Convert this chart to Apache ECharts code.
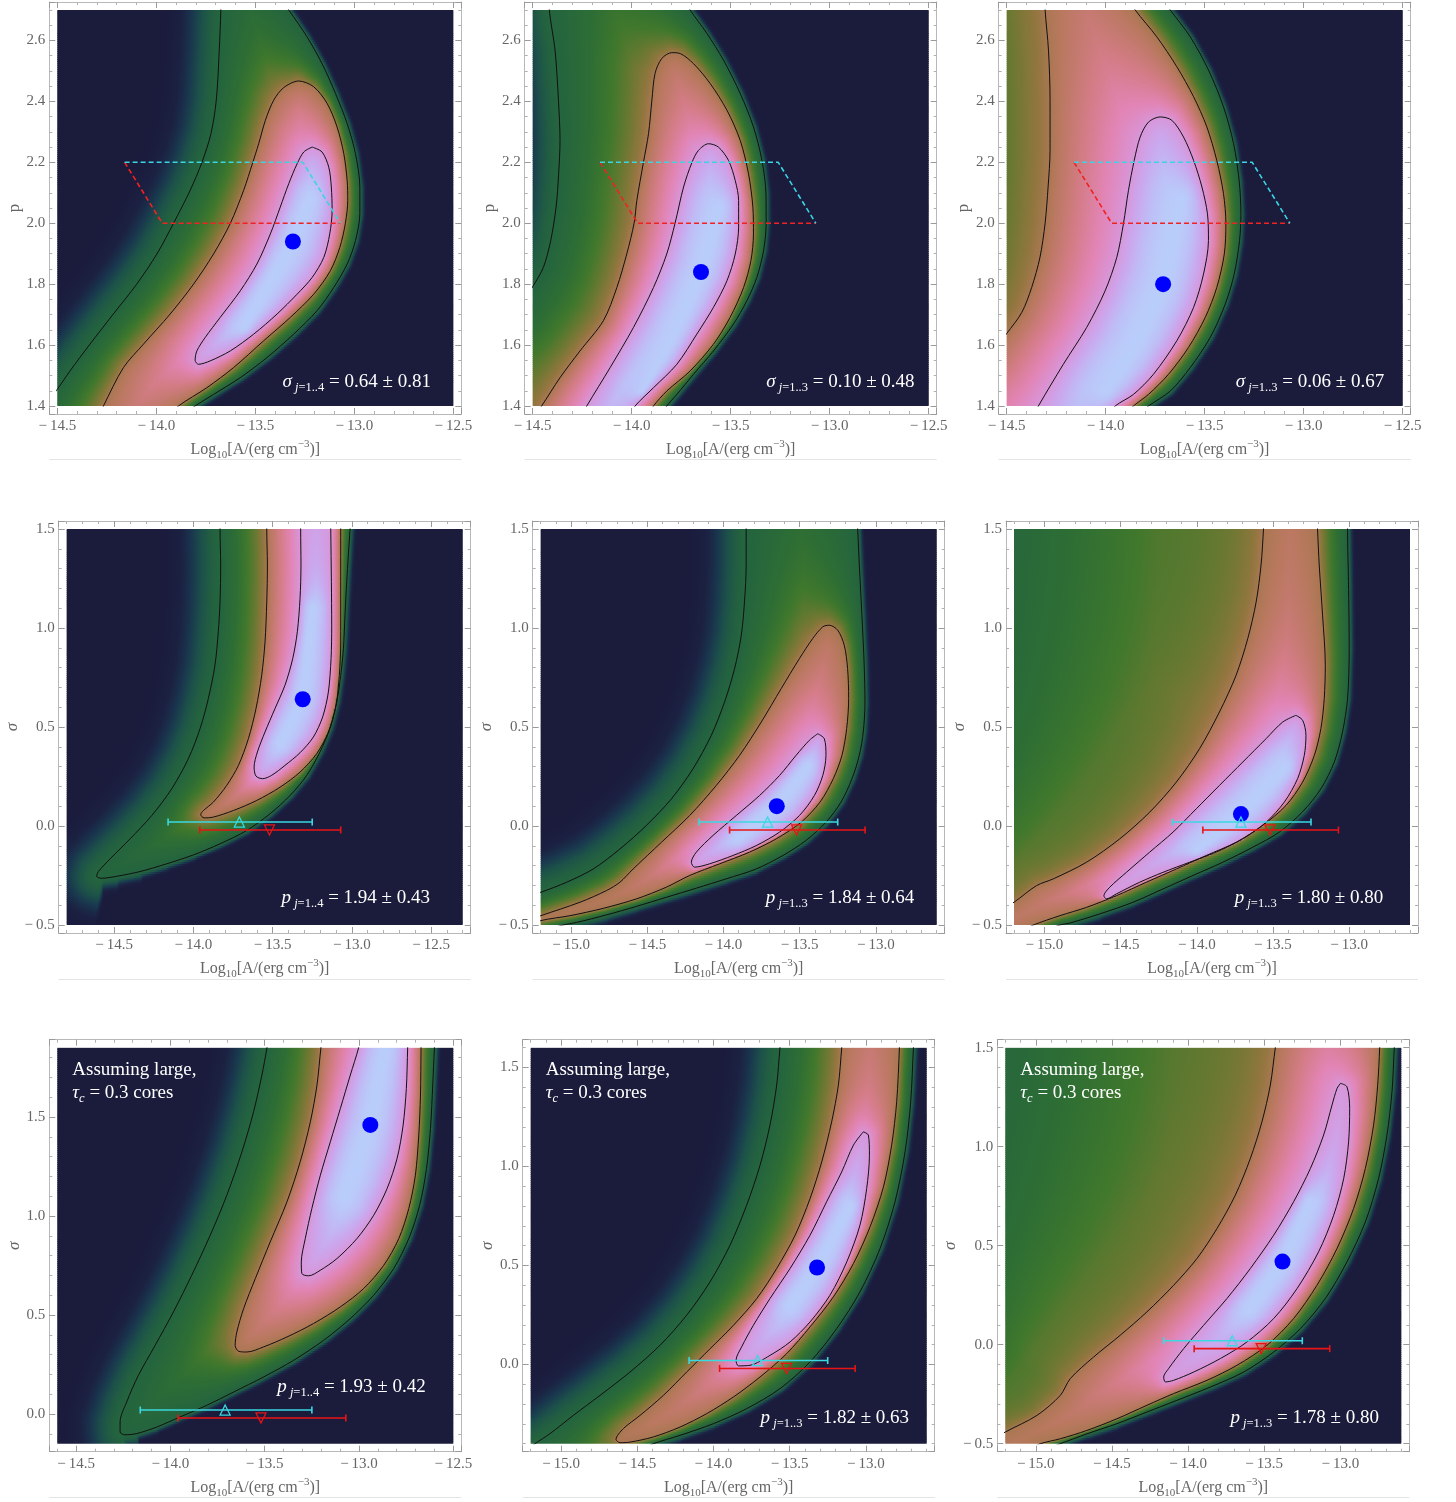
<!DOCTYPE html>
<html><head><meta charset="utf-8"><title>Likelihood maps</title>
<script src="https://cdn.jsdelivr.net/npm/echarts@6.0.0/dist/echarts.min.js"></script>
<style>html,body{margin:0;padding:0;background:#fff;}#chart{width:1456px;height:1502px;}</style>
</head><body><div id="chart"></div>
<script>
// ================= DATA =================
const X_RANGES = [[-14.5,-12.5],[-14.5,-12.5],[-14.5,-12.5],[-14.8,-12.3],[-15.2,-12.6],[-15.2,-12.6],[-14.6,-12.5],[-15.2,-12.6],[-15.2,-12.6]];
const Y_RANGES = [[1.4,2.7],[1.4,2.7],[1.4,2.7],[-0.5,1.5],[-0.5,1.5],[-0.5,1.5],[-0.15,1.85],[-0.4,1.6],[-0.5,1.5]];
const Y_TICK_STEP = [0.2,0.2,0.2,0.5,0.5,0.5,0.5,0.5,0.5];
const Y_NAMES = ['p','p','p','σ','σ','σ','σ','σ','σ'];
const BEST_FIT = [[-13.31,1.94],[-13.65,1.84],[-13.71,1.80],[-13.31,0.64],[-13.65,0.10],[-13.71,0.06],[-12.94,1.46],[-13.32,0.49],[-13.38,0.42]];
const NOTE_SYMBOL = ['σ','σ','σ','p','p','p','p','p','p'];
const NOTE_SUB = ['=1..4','=1..3','=1..3','=1..4','=1..3','=1..3','=1..4','=1..3','=1..3'];
const NOTE_VALUE = ['0.64 ± 0.81','0.10 ± 0.48','0.06 ± 0.67','1.94 ± 0.43','1.84 ± 0.64','1.80 ± 0.80','1.93 ± 0.42','1.82 ± 0.63','1.78 ± 0.80'];
const PRIOR_CYAN = [[-14.16,2.2],[-13.26,2.2],[-13.07,2.0]];
const PRIOR_RED = [[-14.16,2.2],[-13.97,2.0],[-13.07,2.0]];
const ERR_CYAN = [-14.16,-13.71,-13.25,0.02];   // lo, mark, hi, sigma
const ERR_RED = [-13.96,-13.52,-13.07,-0.02];

// contour rings: [x, y] real points, [x, y, 1] closing points outside the plot
const P1_C1 = [[-13.67,2.82],[-13.674,2.7],[-13.682,2.568],[-13.697,2.404],[-13.724,2.294],[-13.770,2.199],[-13.829,2.108],[-13.913,2.0],[-13.997,1.899],[-14.099,1.8],[-14.217,1.702],[-14.335,1.603],[-14.436,1.515],[-14.5,1.455],[-14.6,1.37],
 [-14.8,1.1,1],[-13.9,1.1,1],
 [-13.93,1.34],[-13.804,1.4],[-13.711,1.438],[-13.576,1.493],[-13.441,1.559],[-13.306,1.636],[-13.188,1.713],[-13.104,1.789],[-13.036,1.866],[-12.994,1.943],[-12.972,2.031],[-12.972,2.119],[-12.994,2.228],[-13.036,2.327],[-13.095,2.426],[-13.163,2.524],[-13.239,2.612],[-13.331,2.7],[-13.42,2.78],
 [-13.5,3.2,1],[-13.67,3.2,1]];
const P1_C2 = [[-13.281,2.467],[-13.357,2.445],[-13.407,2.404],[-13.449,2.338],[-13.483,2.261],[-13.513,2.199],[-13.559,2.108],[-13.626,2.0],[-13.711,1.899],[-13.812,1.8],[-13.930,1.702],[-14.065,1.603],[-14.166,1.526],[-14.267,1.4],[-14.31,1.34],
 [-14.4,1.1,1],[-13.95,1.1,1],
 [-13.97,1.35],[-13.888,1.4],[-13.745,1.46],[-13.610,1.526],[-13.458,1.614],[-13.323,1.691],[-13.205,1.767],[-13.121,1.844],[-13.073,1.921],[-13.045,2.0],[-13.033,2.075],[-13.036,2.14],[-13.053,2.228],[-13.087,2.316],[-13.137,2.393],[-13.205,2.448]];
const P1_C3 = [[-13.213,2.250],[-13.163,2.234],[-13.129,2.184],[-13.116,2.119],[-13.112,2.042],[-13.124,1.965],[-13.154,1.888],[-13.213,1.822],[-13.289,1.767],[-13.390,1.702],[-13.508,1.636],[-13.626,1.581],[-13.728,1.548],[-13.787,1.537],[-13.804,1.550],[-13.795,1.581],[-13.753,1.625],[-13.677,1.691],[-13.576,1.778],[-13.492,1.866],[-13.424,1.965],[-13.374,2.053],[-13.331,2.130],[-13.289,2.195],[-13.255,2.234]];
const P1_CREST = [[-13.22,2.08],[-13.31,1.94],[-13.45,1.78],[-13.56,1.66]];

const P2_C1 = [[-14.42,2.8],[-14.416,2.7],[-14.387,2.568],[-14.370,2.404],[-14.362,2.272],[-14.369,2.162],[-14.382,2.053],[-14.409,1.943],[-14.446,1.855],[-14.497,1.795],[-14.57,1.72],
 [-14.8,1.5,1],[-14.6,1.1,1],[-13.95,1.1,1],
 [-13.89,1.34],[-13.823,1.4],[-13.772,1.438],[-13.688,1.504],[-13.587,1.581],[-13.486,1.669],[-13.418,1.746],[-13.368,1.822],[-13.334,1.91],[-13.321,2.0],[-13.322,2.097],[-13.342,2.206],[-13.385,2.316],[-13.452,2.426],[-13.536,2.535],[-13.620,2.623],[-13.705,2.7],[-13.78,2.78],
 [-13.9,3.3,1],[-14.42,3.3,1]];
const P2_C2 = [[-13.797,2.56],[-13.848,2.541],[-13.882,2.492],[-13.898,2.404],[-13.915,2.294],[-13.941,2.199],[-13.974,2.075],[-13.988,2.0],[-14.025,1.899],[-14.075,1.789],[-14.143,1.68],[-14.261,1.581],[-14.362,1.493],[-14.455,1.4],[-14.51,1.35],
 [-14.6,1.1,1],[-13.95,1.1,1],
 [-13.94,1.35],[-13.890,1.4],[-13.823,1.449],[-13.705,1.515],[-13.587,1.603],[-13.503,1.691],[-13.435,1.789],[-13.398,1.877],[-13.385,1.965],[-13.388,2.053],[-13.410,2.162],[-13.452,2.272],[-13.519,2.371],[-13.604,2.459],[-13.688,2.524],[-13.755,2.557]];
const P2_C3 = [[-13.612,2.261],[-13.663,2.239],[-13.696,2.199],[-13.738,2.119],[-13.781,2.0],[-13.823,1.899],[-13.890,1.789],[-13.991,1.658],[-14.109,1.526],[-14.227,1.4],[-14.27,1.35],
 [-14.35,1.15,1],[-14.0,1.15,1],
 [-14.02,1.36],[-13.983,1.4],[-13.890,1.46],[-13.772,1.537],[-13.671,1.636],[-13.587,1.724],[-13.519,1.811],[-13.477,1.899],[-13.460,1.987],[-13.460,2.075],[-13.477,2.14],[-13.511,2.206],[-13.562,2.25]];
const P2_CREST = [[-13.56,2.05],[-13.65,1.84],[-13.8,1.62],[-13.95,1.45]];

const P3_C1 = [[-13.74,2.76],[-13.674,2.7],[-13.573,2.612],[-13.481,2.503],[-13.405,2.382],[-13.354,2.261],[-13.326,2.14],[-13.317,2.031],[-13.324,1.943],[-13.351,1.833],[-13.396,1.735],[-13.472,1.625],[-13.573,1.526],[-13.674,1.449],[-13.784,1.4],[-13.86,1.36],
 [-14.2,1.0,1],[-15.3,1.0,1],
 [-15.2,1.3],[-15.1,1.8],[-15.08,2.3],[-15.1,2.8],
 [-15.2,3.3,1],[-13.8,3.3,1]];
const P3_C2 = [[-14.31,2.8],[-14.306,2.7],[-14.289,2.568],[-14.281,2.404],[-14.281,2.239],[-14.291,2.119],[-14.306,2.0],[-14.332,1.888],[-14.374,1.789],[-14.424,1.707],[-14.5,1.638],[-14.57,1.58],
 [-14.8,1.1,1],[-13.95,1.1,1],
 [-13.92,1.36],[-13.860,1.4],[-13.784,1.438],[-13.683,1.504],[-13.582,1.592],[-13.497,1.691],[-13.439,1.789],[-13.401,1.899],[-13.393,2.0],[-13.405,2.097],[-13.439,2.206],[-13.489,2.316],[-13.556,2.415],[-13.641,2.514],[-13.742,2.612],[-13.851,2.7],[-13.92,2.77],
 [-14.0,3.2,1],[-14.31,3.2,1]];
const P3_C3 = [[-13.725,2.349],[-13.784,2.332],[-13.826,2.283],[-13.856,2.206],[-13.885,2.108],[-13.910,2.0],[-13.944,1.888],[-14.003,1.778],[-14.096,1.658],[-14.214,1.537],[-14.340,1.4],[-14.39,1.34],
 [-14.45,1.15,1],[-13.98,1.15,1],
 [-14.0,1.36],[-13.952,1.4],[-13.860,1.438],[-13.759,1.504],[-13.641,1.614],[-13.556,1.724],[-13.506,1.833],[-13.481,1.943],[-13.486,2.031],[-13.514,2.119],[-13.556,2.206],[-13.607,2.283],[-13.666,2.338]];
const P3_CREST = [[-13.62,2.08],[-13.71,1.80],[-13.85,1.6],[-14.0,1.45]];

const P4_C1 = [[-13.832,1.58],[-13.832,1.5],[-13.828,1.318],[-13.832,1.132],[-13.843,0.981],[-13.864,0.812],[-13.906,0.643],[-13.958,0.492],[-14.032,0.34],[-14.137,0.188],[-14.263,0.053],[-14.4,-0.065],[-14.526,-0.166],[-14.6,-0.23],[-14.611,-0.254],[-14.579,-0.264],[-14.484,-0.254],[-14.337,-0.23],[-14.169,-0.191],[-14.0,-0.146],[-13.832,-0.09],[-13.664,-0.023],[-13.516,0.062],[-13.39,0.154],[-13.285,0.255],[-13.201,0.374],[-13.138,0.492],[-13.095,0.626],[-13.07,0.761],[-13.053,0.896],[-13.043,1.065],[-13.032,1.234],[-13.022,1.368],[-13.011,1.5],[-13.005,1.58],
 [-13.0,2.1,1],[-13.84,2.1,1]];
const P4_C2 = [[-13.537,1.58],[-13.537,1.5],[-13.533,1.318],[-13.537,1.132],[-13.548,0.93],[-13.569,0.761],[-13.605,0.593],[-13.653,0.441],[-13.716,0.306],[-13.79,0.205],[-13.874,0.121],[-13.937,0.078],[-13.954,0.058],[-13.933,0.041],[-13.874,0.045],[-13.748,0.078],[-13.6,0.129],[-13.453,0.196],[-13.327,0.272],[-13.222,0.365],[-13.148,0.475],[-13.1,0.61],[-13.079,0.761],[-13.07,0.93],[-13.07,1.149],[-13.07,1.318],[-13.07,1.5],[-13.07,1.58],
 [-13.07,2.1,1],[-13.54,2.1,1]];
const P4_C3 = [[-13.322,1.58],[-13.323,1.5],[-13.321,1.318],[-13.327,1.149],[-13.344,0.981],[-13.373,0.846],[-13.422,0.711],[-13.485,0.593],[-13.548,0.475],[-13.596,0.374],[-13.617,0.298],[-13.605,0.252],[-13.563,0.239],[-13.506,0.256],[-13.422,0.306],[-13.327,0.37],[-13.243,0.449],[-13.184,0.551],[-13.148,0.677],[-13.131,0.846],[-13.127,1.014],[-13.129,1.234],[-13.133,1.5],[-13.134,1.58],
 [-13.13,2.1,1],[-13.32,2.1,1]];
const P4_CREST = [[-13.25,1.1],[-13.31,0.64],[-13.45,0.42]];

const P5_C1 = [[-13.851,1.58],[-13.851,1.5],[-13.851,1.318],[-13.862,1.132],[-13.883,0.963],[-13.927,0.795],[-13.993,0.626],[-14.08,0.458],[-14.2,0.289],[-14.342,0.137],[-14.506,0.003],[-14.68,-0.116],[-14.855,-0.217],[-15.03,-0.284],[-15.2,-0.335],[-15.3,-0.36],
 [-15.6,-0.4,1],[-15.5,-0.8,1],
 [-15.15,-0.52],[-15.052,-0.5],[-14.964,-0.487],[-14.768,-0.449],[-14.571,-0.406],[-14.375,-0.36],[-14.178,-0.314],[-13.982,-0.267],[-13.785,-0.217],[-13.61,-0.149],[-13.458,-0.073],[-13.327,0.019],[-13.228,0.121],[-13.156,0.239],[-13.108,0.357],[-13.082,0.475],[-13.071,0.626],[-13.076,0.812],[-13.091,1.065],[-13.108,1.318],[-13.119,1.5],[-13.125,1.58],
 [-13.1,2.1,1],[-13.85,2.1,1]];
const P5_C2 = [[-13.305,1.014],[-13.348,1.006],[-13.414,0.947],[-13.501,0.846],[-13.621,0.694],[-13.752,0.525],[-13.894,0.357],[-14.047,0.205],[-14.222,0.053],[-14.407,-0.082],[-14.593,-0.217],[-14.68,-0.284],[-14.768,-0.326],[-14.942,-0.385],[-15.2,-0.453],[-15.3,-0.48],
 [-15.6,-0.6,1],
 [-15.3,-0.51],[-15.2,-0.478],[-15.008,-0.453],[-14.79,-0.416],[-14.571,-0.368],[-14.375,-0.309],[-14.222,-0.25],[-14.025,-0.191],[-13.829,-0.132],[-13.654,-0.065],[-13.49,0.019],[-13.366,0.121],[-13.279,0.239],[-13.222,0.357],[-13.191,0.492],[-13.178,0.643],[-13.185,0.795],[-13.207,0.913],[-13.25,0.989]];
const P5_C3 = [[-13.381,0.466],[-13.338,0.441],[-13.327,0.357],[-13.348,0.255],[-13.403,0.154],[-13.501,0.053],[-13.632,-0.031],[-13.785,-0.099],[-13.938,-0.149],[-14.091,-0.191],[-14.189,-0.208],[-14.211,-0.183],[-14.178,-0.132],[-14.069,-0.048],[-13.916,0.053],[-13.763,0.154],[-13.632,0.255],[-13.523,0.357],[-13.436,0.433]];
const P5_CREST = [[-13.45,0.3],[-13.65,0.1],[-13.9,-0.06]];

const P6_C1 = [[-13.01,1.58],[-13.01,1.5],[-13.004,1.234],[-12.999,0.896],[-13.01,0.643],[-13.043,0.475],[-13.097,0.323],[-13.185,0.188],[-13.305,0.072],[-13.458,-0.031],[-13.632,-0.107],[-13.829,-0.183],[-14.025,-0.25],[-14.222,-0.318],[-14.418,-0.385],[-14.637,-0.444],[-14.833,-0.49],[-14.899,-0.5],[-15.0,-0.53],
 [-15.4,-0.9,1],
 [-15.75,-0.7],[-15.65,-0.1],[-15.58,0.5],[-15.52,1.1],[-15.48,1.7],
 [-15.3,2.2,1],[-13.0,2.2,1]];
const P6_C2 = [[-13.56,1.58],[-13.562,1.5],[-13.578,1.318],[-13.61,1.132],[-13.665,0.947],[-13.742,0.761],[-13.851,0.576],[-13.982,0.39],[-14.134,0.222],[-14.309,0.07],[-14.506,-0.065],[-14.724,-0.183],[-14.942,-0.267],[-15.052,-0.301],[-15.2,-0.385],[-15.3,-0.43],
 [-15.5,-0.7,1],
 [-15.15,-0.53],[-15.073,-0.5],[-14.899,-0.453],[-14.724,-0.411],[-14.528,-0.352],[-14.331,-0.284],[-14.134,-0.217],[-13.938,-0.149],[-13.741,-0.082],[-13.567,0.003],[-13.414,0.104],[-13.305,0.222],[-13.228,0.357],[-13.185,0.492],[-13.163,0.643],[-13.156,0.812],[-13.174,1.065],[-13.196,1.318],[-13.207,1.5],[-13.21,1.58],
 [-13.2,2.1,1],[-13.56,2.1,1]];
const P6_C3 = [[-13.349,0.559],[-13.305,0.534],[-13.283,0.458],[-13.294,0.357],[-13.338,0.239],[-13.425,0.121],[-13.545,0.019],[-13.698,-0.065],[-13.873,-0.132],[-14.047,-0.183],[-14.222,-0.234],[-14.375,-0.284],[-14.528,-0.343],[-14.593,-0.368],[-14.610,-0.352],[-14.571,-0.309],[-14.462,-0.234],[-14.309,-0.132],[-14.156,-0.031],[-14.003,0.087],[-13.851,0.205],[-13.698,0.323],[-13.545,0.441],[-13.436,0.525]];
const P6_CREST = [[-13.42,0.3],[-13.71,0.06],[-14.0,-0.12]];

const P7_C1 = [[-13.475,1.93],[-13.488,1.85],[-13.515,1.712],[-13.559,1.527],[-13.621,1.324],[-13.701,1.105],[-13.789,0.903],[-13.887,0.701],[-13.984,0.516],[-14.081,0.347],[-14.17,0.195],[-14.232,0.061],[-14.267,-0.04],[-14.267,-0.091],[-14.241,-0.105],[-14.179,-0.099],[-14.073,-0.066],[-13.949,-0.015],[-13.807,0.044],[-13.665,0.111],[-13.506,0.187],[-13.347,0.271],[-13.188,0.372],[-13.046,0.482],[-12.922,0.6],[-12.816,0.735],[-12.736,0.886],[-12.678,1.055],[-12.642,1.24],[-12.621,1.442],[-12.609,1.661],[-12.6,1.85],[-12.595,1.93],
 [-12.6,2.4,1],[-13.47,2.4,1]];
const P7_C2 = [[-13.19,1.93],[-13.202,1.85],[-13.223,1.661],[-13.258,1.476],[-13.312,1.274],[-13.382,1.072],[-13.471,0.869],[-13.55,0.684],[-13.612,0.532],[-13.648,0.414],[-13.657,0.347],[-13.639,0.317],[-13.595,0.313],[-13.506,0.339],[-13.382,0.389],[-13.241,0.457],[-13.099,0.541],[-12.975,0.634],[-12.869,0.751],[-12.789,0.886],[-12.736,1.038],[-12.701,1.206],[-12.683,1.409],[-12.674,1.611],[-12.671,1.85],[-12.67,1.93],
 [-12.67,2.4,1],[-13.19,2.4,1]];
const P7_C3 = [[-12.985,1.93],[-13.002,1.85],[-13.046,1.712],[-13.099,1.543],[-13.152,1.375],[-13.205,1.206],[-13.25,1.038],[-13.285,0.886],[-13.306,0.768],[-13.303,0.709],[-13.267,0.698],[-13.205,0.726],[-13.117,0.785],[-13.011,0.886],[-12.922,1.004],[-12.851,1.139],[-12.798,1.291],[-12.766,1.459],[-12.749,1.644],[-12.742,1.85],[-12.74,1.93],
 [-12.74,2.4,1],[-12.99,2.4,1]];
const P7_CREST = [[-12.86,1.85],[-12.94,1.46],[-13.08,1.1]];

const P8_C1 = [[-13.55,1.68],[-13.563,1.6],[-13.585,1.411],[-13.629,1.209],[-13.694,1.007],[-13.782,0.805],[-13.891,0.603],[-14.023,0.417],[-14.176,0.249],[-14.351,0.097],[-14.548,-0.038],[-14.745,-0.156],[-14.92,-0.257],[-15.073,-0.349],[-15.172,-0.4],[-15.24,-0.44],
 [-15.4,-0.8,1],[-14.5,-0.8,1],
 [-14.5,-0.44],[-14.395,-0.4],[-14.22,-0.358],[-14.001,-0.299],[-13.782,-0.223],[-13.563,-0.122],[-13.366,0.013],[-13.191,0.181],[-13.038,0.367],[-12.906,0.586],[-12.808,0.822],[-12.742,1.074],[-12.705,1.327],[-12.687,1.6],[-12.68,1.68],
 [-12.7,2.1,1],[-13.55,2.1,1]];
const P8_C2 = [[-13.15,1.68],[-13.158,1.6],[-13.18,1.411],[-13.224,1.226],[-13.289,1.024],[-13.366,0.838],[-13.464,0.653],[-13.585,0.485],[-13.716,0.333],[-13.869,0.198],[-14.022,0.08],[-14.176,-0.038],[-14.329,-0.156],[-14.482,-0.257],[-14.592,-0.324],[-14.64,-0.378],[-14.613,-0.395],[-14.548,-0.392],[-14.395,-0.366],[-14.22,-0.316],[-14.044,-0.248],[-13.869,-0.164],[-13.694,-0.063],[-13.519,0.055],[-13.366,0.19],[-13.213,0.341],[-13.081,0.51],[-12.972,0.695],[-12.884,0.897],[-12.83,1.108],[-12.797,1.327],[-12.779,1.6],[-12.777,1.68],
 [-12.78,2.1,1],[-13.15,2.1,1]];
const P8_C3 = [[-13.016,1.175],[-12.983,1.159],[-12.976,1.057],[-12.994,0.889],[-13.038,0.704],[-13.125,0.518],[-13.235,0.350],[-13.366,0.215],[-13.497,0.114],[-13.629,0.046],[-13.760,-0.004],[-13.836,-0.007],[-13.852,0.021],[-13.815,0.089],[-13.738,0.198],[-13.629,0.333],[-13.497,0.485],[-13.366,0.653],[-13.257,0.822],[-13.158,0.973],[-13.081,1.108]];
const P8_CREST = [[-13.1,0.8],[-13.32,0.49],[-13.5,0.3]];

const P9_C1 = [[-12.64,1.58],[-12.646,1.5],[-12.661,1.278],[-12.694,1.059],[-12.749,0.84],[-12.836,0.62],[-12.957,0.418],[-13.099,0.233],[-13.263,0.081],[-13.438,-0.037],[-13.635,-0.138],[-13.854,-0.214],[-14.073,-0.281],[-14.27,-0.34],[-14.467,-0.399],[-14.664,-0.45],[-14.839,-0.5],[-14.95,-0.53],
 [-15.3,-0.9,1],
 [-15.75,-0.6],[-15.65,0.0],[-15.58,0.6],[-15.52,1.2],[-15.48,1.8],
 [-15.2,2.2,1],[-12.65,2.2,1]];
const P9_C2 = [[-13.41,1.58],[-13.427,1.5],[-13.46,1.311],[-13.515,1.126],[-13.591,0.941],[-13.69,0.755],[-13.81,0.587],[-13.942,0.435],[-14.095,0.3],[-14.27,0.166],[-14.445,0.048],[-14.62,-0.062],[-14.773,-0.171],[-14.839,-0.256],[-14.992,-0.357],[-15.2,-0.441],[-15.28,-0.48],
 [-15.5,-0.7,1],
 [-15.05,-0.53],[-14.97,-0.5],[-14.839,-0.475],[-14.664,-0.433],[-14.467,-0.374],[-14.27,-0.306],[-14.095,-0.247],[-13.876,-0.18],[-13.679,-0.104],[-13.482,-0.003],[-13.307,0.132],[-13.154,0.3],[-13.022,0.486],[-12.913,0.688],[-12.836,0.89],[-12.782,1.109],[-12.755,1.311],[-12.742,1.5],[-12.74,1.58],
 [-12.74,2.1,1],[-13.4,2.1,1]];
const P9_C3 = [[-12.999,1.320],[-12.957,1.303],[-12.939,1.193],[-12.946,1.025],[-12.978,0.840],[-13.044,0.654],[-13.143,0.469],[-13.285,0.283],[-13.438,0.132],[-13.613,0.014],[-13.788,-0.070],[-13.963,-0.138],[-14.095,-0.180],[-14.149,-0.188],[-14.160,-0.163],[-14.128,-0.121],[-14.029,-0.020],[-13.898,0.098],[-13.745,0.233],[-13.591,0.385],[-13.438,0.553],[-13.307,0.722],[-13.197,0.890],[-13.110,1.059],[-13.055,1.210],[-13.022,1.294]];
const P9_CREST = [[-13.2,0.72],[-13.38,0.42],[-13.6,0.18]];

const CONTOURS = [[P1_C1,P1_C2,P1_C3],[P2_C1,P2_C2,P2_C3],[P3_C1,P3_C2,P3_C3],[P4_C1,P4_C2,P4_C3],[P5_C1,P5_C2,P5_C3],[P6_C1,P6_C2,P6_C3],[P7_C1,P7_C2,P7_C3],[P8_C1,P8_C2,P8_C3],[P9_C1,P9_C2,P9_C3]];
const CRESTS = [P1_CREST,P2_CREST,P3_CREST,P4_CREST,P5_CREST,P6_CREST,P7_CREST,P8_CREST,P9_CREST];

// ================= LAYOUT & STYLE =================
const FONT = '"Liberation Serif","DejaVu Serif",serif';
const ROW_TOP = [10, 529, 1047.7];
const COL_LEFT = [[57.3,532.7,1006.7],[66.7,540.7,1014],[57.3,530.7,1005.3]];
const BOX = 396, PAD = 8;
const NOTE_FX = [0.756,0.777,0.766,0.73,0.756,0.745,0.743,0.768,0.756];
const NOTE_FY = [0.939,0.939,0.939,0.933,0.933,0.933,0.858,0.936,0.935];
const LEV = [0.3, 0.6, 0.8];
const S_SOFT = 0.075, S_SHARP = 0.01;
const NX = 200, NY = 200;
const RAMP = [[0.00,27,27,60],[0.05,27,33,66],[0.12,25,55,78],[0.20,28,80,74],[0.30,36,100,62],[0.38,46,110,52],[0.45,64,120,44],[0.52,110,120,50],[0.57,145,118,62],[0.62,185,120,95],[0.68,212,124,135],[0.74,226,132,180],[0.80,216,150,218],[0.88,202,168,238],[0.95,190,190,246],[1.00,185,205,250]];

function rampColor(t){
  if (!(t > 0)) t = 0; if (t > 1) t = 1;
  for (let k = 1; k < RAMP.length; k++) {
    if (t <= RAMP[k][0]) {
      const a = RAMP[k-1], b = RAMP[k], f = (t - a[0]) / (b[0] - a[0]);
      return 'rgb(' + Math.round(a[1]+(b[1]-a[1])*f) + ',' + Math.round(a[2]+(b[2]-a[2])*f) + ',' + Math.round(a[3]+(b[3]-a[3])*f) + ')';
    }
  }
  return 'rgb(185,205,250)';
}

function prepRing(ring, X, Y){
  const sx = X[1]-X[0], sy = Y[1]-Y[0];
  const pts = ring.map(p => [(p[0]-X[0])/sx, (p[1]-Y[0])/sy, p[2] ? 1 : 0]);
  const segs = [];
  for (let i = 0; i < pts.length; i++) {
    const a = pts[i], b = pts[(i+1) % pts.length];
    if (!a[2] && !b[2]) segs.push([a[0], a[1], b[0]-a[0], b[1]-a[1]]);
  }
  return {pts, segs};
}
function prepLine(line, X, Y){
  const sx = X[1]-X[0], sy = Y[1]-Y[0];
  const pts = line.map(p => [(p[0]-X[0])/sx, (p[1]-Y[0])/sy]);
  const segs = [];
  for (let i = 0; i < pts.length-1; i++) segs.push([pts[i][0], pts[i][1], pts[i+1][0]-pts[i][0], pts[i+1][1]-pts[i][1]]);
  return segs;
}
function inside(pts, u, v){
  let c = false;
  for (let i = 0, j = pts.length-1; i < pts.length; j = i++) {
    const xi = pts[i][0], yi = pts[i][1], xj = pts[j][0], yj = pts[j][1];
    if ((yi > v) !== (yj > v) && u < (xj-xi)*(v-yi)/(yj-yi) + xi) c = !c;
  }
  return c;
}
function near(segs, u, v){
  let best = 1e9, bx = 0, by = 0;
  for (let k = 0; k < segs.length; k++) {
    const s = segs[k], L = s[2]*s[2] + s[3]*s[3];
    let t = L > 0 ? ((u-s[0])*s[2] + (v-s[1])*s[3]) / L : 0;
    t = t < 0 ? 0 : (t > 1 ? 1 : t);
    const px = s[0] + t*s[2], py = s[1] + t*s[3];
    const d = (u-px)*(u-px) + (v-py)*(v-py);
    if (d < best) { best = d; bx = px; by = py; }
  }
  return [Math.sqrt(best), bx, by];
}
function level(R, C, u, v){
  let k = 0;
  if (inside(R[2].pts, u, v)) k = 3; else if (inside(R[1].pts, u, v)) k = 2; else if (inside(R[0].pts, u, v)) k = 1;
  if (k === 3) {
    const d3 = near(R[2].segs,u,v)[0], dp = near(C,u,v)[0];
    const s = d3/(d3+dp+1e-9), e = 1 - (1-s)*(1-s);
    return LEV[2] + (1-LEV[2]) * e;
  }
  if (k === 2) { const d2 = near(R[1].segs,u,v)[0], d3 = near(R[2].segs,u,v)[0]; return LEV[1] + (LEV[2]-LEV[1]) * d2/(d2+d3+1e-9); }
  if (k === 1) { const d1 = near(R[0].segs,u,v)[0], d2 = near(R[1].segs,u,v)[0]; return LEV[0] + (LEV[1]-LEV[0]) * Math.pow(d1/(d1+d2+1e-9), 1.25); }
  const n = near(R[0].segs, u, v), d = n[0];
  let f = 0.3 + 2.0 * (u - n[1]) / (d + 1e-9); f = f < 0 ? 0 : (f > 1 ? 1 : f);
  const s = Math.exp(Math.log(S_SOFT)*(1-f) + Math.log(S_SHARP)*f);
  return LEV[0] * Math.exp(-(d/s)*(d/s));
}
function buildRows(i){
  const X = X_RANGES[i], Y = Y_RANGES[i];
  const R = CONTOURS[i].map(r => prepRing(r, X, Y));
  const C = prepLine(CRESTS[i], X, Y);
  const rows = [];
  for (let a = 0; a < NY; a++) {
    const v = (a + 0.5) / NY, stops = [];
    for (let b = 0; b < NX; b++) {
      const u = (b + 0.5) / NX;
      stops.push({offset: u, color: rampColor(level(R, C, u, v))});
    }
    rows.push(stops);
  }
  return rows;
}
function runs(ring){
  const n = ring.length, vi = ring.findIndex(p => p[2]);
  if (vi < 0) return [ring.map(p => [p[0], p[1]]).concat([[ring[0][0], ring[0][1]]])];
  const out = []; let cur = [];
  for (let k = 1; k <= n; k++) {
    const p = ring[(vi + k) % n];
    if (p[2]) { if (cur.length > 1) out.push(cur); cur = []; } else cur.push([p[0], p[1]]);
  }
  if (cur.length > 1) out.push(cur);
  return out;
}
function fmt(step){
  return v => { const k = v/step; if (Math.abs(k - Math.round(k)) > 1e-6) return ''; if (Math.abs(v) < 1e-9) v = 0; return v.toFixed(1).replace('-', '−\u2009'); };
}

// ================= OPTION =================
const grids = [], xAxes = [], yAxes = [], series = [], graphics = [];
const axisLineStyle = {show:true, onZero:false, lineStyle:{color:'#b8b8b8', width:1}};
const axisTickStyle = {show:true, inside:true, length:6, lineStyle:{color:'#9a9a9a', width:1}};
function minorTick(n){ return {show:true, splitNumber:n, length:3, lineStyle:{color:'#b0b0b0', width:1}}; }
const labelStyle = {color:'#666', fontFamily:FONT, fontSize:15};
const X_NAME_RICH = {
  a:{fontFamily:FONT, fontSize:16, color:'#666', lineHeight:22, verticalAlign:'middle'},
  s:{fontFamily:FONT, fontSize:11, color:'#666', lineHeight:12, verticalAlign:'bottom'},
  u:{fontFamily:FONT, fontSize:11, color:'#666', lineHeight:12, verticalAlign:'top'}
};
const NOTE_RICH = {
  g:{fontFamily:FONT, fontStyle:'italic', fontSize:19, fill:'#fff', color:'#fff', lineHeight:24, verticalAlign:'middle'},
  j:{fontFamily:FONT, fontStyle:'italic', fontSize:12.5, fill:'#fff', color:'#fff', lineHeight:13, verticalAlign:'bottom'},
  n:{fontFamily:FONT, fontSize:12.5, fill:'#fff', color:'#fff', lineHeight:13, verticalAlign:'bottom'},
  m:{fontFamily:FONT, fontSize:19, fill:'#fff', color:'#fff', lineHeight:24, verticalAlign:'middle'}
};

for (let i = 0; i < 9; i++) {
  const r = Math.floor(i/3), c = i % 3;
  const L = COL_LEFT[r][c], T = ROW_TOP[r];
  const X = X_RANGES[i], Y = Y_RANGES[i];
  const sx = X[1]-X[0], sy = Y[1]-Y[0];
  const XB = [X[0] - PAD/BOX*sx, X[1] + PAD/BOX*sx], YB = [Y[0] - PAD/BOX*sy, Y[1] + PAD/BOX*sy];
  const gA = grids.length;
  grids.push({left:L, top:T, width:BOX, height:BOX, outerBoundsMode:'none'});
  const gB = grids.length;
  grids.push({left:L-PAD, top:T-PAD, width:BOX+2*PAD, height:BOX+2*PAD, outerBoundsMode:'none'});
  const ax = 3*i;
  xAxes.push({type:'value', gridIndex:gA, min:X[0], max:X[1], show:false});
  xAxes.push({type:'value', gridIndex:gB, min:XB[0], max:XB[1], splitNumber:4, position:'bottom',
    axisLine:axisLineStyle, axisTick:axisTickStyle, minorTick:minorTick(5), splitLine:{show:false}, minorSplitLine:{show:false},
    axisLabel:Object.assign({show:true, margin:5, formatter:fmt(0.5)}, labelStyle),
    name:'{a|Log}{s|10}{a|[A/(erg cm}{u|−3}{a|)]}', nameLocation:'middle', nameGap:25, nameTextStyle:{rich:X_NAME_RICH}});
  xAxes.push({type:'value', gridIndex:gB, min:XB[0], max:XB[1], splitNumber:4, position:'top',
    axisLine:axisLineStyle, axisTick:axisTickStyle, minorTick:minorTick(5), splitLine:{show:false}, axisLabel:{show:false}});
  const ySplit = r === 0 ? 6 : 4, yMinor = r === 0 ? 4 : 5;
  yAxes.push({type:'value', gridIndex:gA, min:Y[0], max:Y[1], show:false});
  yAxes.push({type:'value', gridIndex:gB, min:YB[0], max:YB[1], splitNumber:ySplit, position:'left',
    axisLine:axisLineStyle, axisTick:axisTickStyle, minorTick:minorTick(yMinor), splitLine:{show:false}, minorSplitLine:{show:false},
    axisLabel:Object.assign({show:true, margin:4, formatter:fmt(Y_TICK_STEP[i])}, labelStyle),
    name:Y_NAMES[i], nameLocation:'middle', nameGap:26, nameRotate:90,
    nameTextStyle:{fontFamily:FONT, fontSize:17, color:'#666', fontStyle: r === 0 ? 'normal' : 'italic'}});
  yAxes.push({type:'value', gridIndex:gB, min:YB[0], max:YB[1], splitNumber:ySplit, position:'right',
    axisLine:axisLineStyle, axisTick:axisTickStyle, minorTick:minorTick(yMinor), splitLine:{show:false}, axisLabel:{show:false}});

  // density field
  const rows = buildRows(i);
  const dy = sy / NY;
  const rowData = rows.map((_, k) => [X[0], Y[0] + k*dy, X[1], Y[0] + (k+1)*dy]);
  series.push({type:'custom', xAxisIndex:ax, yAxisIndex:ax, data:rowData, silent:true, z:1, clip:true, animation:false,
    renderItem:(params, api) => {
      const a = api.coord([api.value(0), api.value(3)]);
      const b = api.coord([api.value(2), api.value(1)]);
      return {type:'rect', shape:{x:a[0], y:a[1]-0.4, width:b[0]-a[0], height:b[1]-a[1]+0.8},
        style:{fill:{type:'linear', x:0, y:0, x2:1, y2:0, colorStops:rows[params.dataIndex], global:false}}};
    }});

  // contours
  CONTOURS[i].forEach(ring => {
    runs(ring).forEach(run => {
      series.push({type:'line', xAxisIndex:ax, yAxisIndex:ax, data:run, symbol:'none', showSymbol:false, smooth:0.3,
        clip:true, silent:true, z:2, lineStyle:{color:'#111', width:1}});
    });
  });

  // best fit point
  series.push({type:'scatter', xAxisIndex:ax, yAxisIndex:ax, data:[BEST_FIT[i]], symbol:'circle', symbolSize:16, silent:true, z:4,
    itemStyle:{color:'#0000ff', opacity:1}});

  if (r === 0) {
    series.push({type:'line', xAxisIndex:ax, yAxisIndex:ax, data:PRIOR_RED, symbol:'none', silent:true, z:5,
      lineStyle:{color:'#f02222', width:1.6, type:[5,3]}});
    series.push({type:'line', xAxisIndex:ax, yAxisIndex:ax, data:PRIOR_CYAN, symbol:'none', silent:true, z:5,
      lineStyle:{color:'#3ad4e2', width:1.6, type:[5,3]}});
  } else {
    [[ERR_CYAN, '#3ad8e2', 0], [ERR_RED, '#e81414', 180]].forEach(([E, col, rot]) => {
      series.push({type:'line', xAxisIndex:ax, yAxisIndex:ax, data:[[E[0],E[3]],[E[2],E[3]]], symbol:'none', silent:true, z:6,
        lineStyle:{color:col, width:1.6}});
      series.push({type:'scatter', xAxisIndex:ax, yAxisIndex:ax, data:[[E[0],E[3]],[E[2],E[3]]], symbol:'rect', symbolSize:[1.6,7], silent:true, z:6,
        itemStyle:{color:col, opacity:1}});
      series.push({type:'scatter', xAxisIndex:ax, yAxisIndex:ax, data:[[E[1],E[3]]], symbol:'triangle', symbolSize:[10,10], symbolRotate:rot, silent:true, z:7,
        itemStyle:{color:'rgba(0,0,0,0)', borderColor:col, borderWidth:1.3, opacity:1}});
    });
  }

  // annotation text
  graphics.push({type:'text', z:100, silent:true, x:L + NOTE_FX[i]*BOX, y:T + NOTE_FY[i]*BOX,
    style:{text:'{g|' + NOTE_SYMBOL[i] + '}{j| j}{n|' + NOTE_SUB[i] + '}{m| = ' + NOTE_VALUE[i] + '}', rich:NOTE_RICH,
      fill:'#fff', align:'center', verticalAlign:'middle', fontFamily:FONT, fontSize:19}});
  if (r === 2) {
    graphics.push({type:'text', z:100, silent:true, x:L + 15, y:T + 22,
      style:{text:'Assuming large,', fill:'#fff', fontFamily:FONT, fontSize:19, align:'left', verticalAlign:'middle'}});
    graphics.push({type:'text', z:100, silent:true, x:L + 15, y:T + 45.5,
      style:{text:'{g|τ}{j|c}{m| = 0.3 cores}', rich:NOTE_RICH, fill:'#fff', align:'left', verticalAlign:'middle', fontFamily:FONT, fontSize:19}});
  }
  // faint border line under each panel
  const lineY = [459.5, 979.5, 1497.5][r];
  graphics.push({type:'line', z:100, silent:true, shape:{x1:L-PAD, y1:lineY, x2:L+BOX+PAD, y2:lineY}, style:{stroke:'#e4e4e4', lineWidth:1}});
}

const chart = echarts.init(document.getElementById('chart'), null, {renderer:'canvas'});
chart.setOption({animation:false, backgroundColor:'#ffffff', textStyle:{fontFamily:FONT},
  grid:grids, xAxis:xAxes, yAxis:yAxes, series:series, graphic:graphics});
</script></body></html>
